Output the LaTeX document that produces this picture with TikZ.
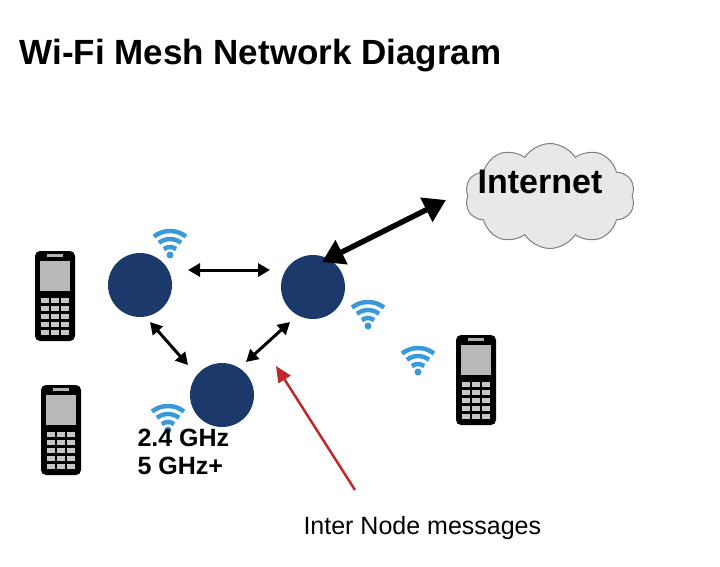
\documentclass[tikz,border=0pt]{standalone}
\usepackage{fontspec}
\setmainfont{Liberation Sans}
\usetikzlibrary{shapes.symbols,arrows.meta}
\definecolor{meshnode}{HTML}{1B3A6B}
\definecolor{wifiblue}{HTML}{3A9AD9}
\definecolor{cloudgray}{HTML}{E8E8E8}
\definecolor{redarrow}{HTML}{C0282D}

\tikzset{
	mesh/.style={circle, fill=meshnode, minimum size=64pt, inner sep=0pt},
	link/.style={line width=3pt, {Triangle[length=12pt,width=13pt]}-{Triangle[length=12pt,width=13pt]}},
	uplink/.style={line width=5.5pt, {Triangle[length=22pt,width=26pt]}-{Triangle[length=22pt,width=26pt]}}
}
% wifi symbol
\newcommand{\wifisign}[1]{%
	\begin{scope}[shift={#1}, wifiblue, line width=4.5pt]
		\fill (0,-2) circle[radius=3.5pt];
		\foreach \r in {10,18,26}{
			\draw (0,0) ++(232:\r) arc[start angle=232, end angle=308, radius=\r];
		}
	\end{scope}}
% mobile phone
\newcommand{\handset}[1]{%
	\begin{scope}[shift={#1}]
		\fill[black, rounded corners=5pt] (-20,-45) rectangle (20,45);
		\fill[gray!55] (-15,-35) rectangle (15,-5);
		\fill[gray!60] (-8,-42) rectangle (8,-39);
		\foreach \i in {0,...,4}{
			\foreach \j in {-1,0,1}{
				\fill[gray!45] (\j*10-4,2+\i*8) rectangle (\j*10+4,7+\i*8);
			}
		}
	\end{scope}}

\begin{document}
\begin{tikzpicture}[x=1pt, y=-1pt]
	\useasboundingbox (0,0) rectangle (720,566);
	\node[anchor=base west, font=\bfseries\fontsize{35}{38}\selectfont] (title) at (16,64) {Wi-Fi Mesh Network Diagram};

	\node[cloud, cloud puffs=10, cloud puff arc=115, aspect=1.6, fill=cloudgray, draw=gray, line width=1pt, minimum width=170pt, minimum height=105pt] (internet) at (550,196) {};
	\node[font=\bfseries\fontsize{34}{36}\selectfont] at (540,182) {Internet};

	\node[mesh] (left) at (140,285) {};
	\node[mesh] (right) at (313,287) {};
	\node[mesh] (bottom) at (222,395) {};

	\draw[link] (188,270) -- (270,270);
	\draw[link] (150,322) -- (188,365);
	\draw[link] (246,362) -- (290,322);
	\draw[uplink] (322,262) -- (446,200);

	\wifisign{(170,257)}
	\wifisign{(368,328)}
	\wifisign{(418,374)}
	\wifisign{(168,432)}

	\handset{(55,296)}
	\handset{(61,430)}
	\handset{(476,380)}

	\draw[redarrow, line width=2.5pt, -{Triangle[length=16pt,width=14pt]}] (355,490) -- (276,366);

	\node[anchor=base west, font=\bfseries\fontsize{25}{28}\selectfont, align=left] (freq) at (134,474) {2.4 GHz\\5 GHz+};
	\node[anchor=base west, font=\fontsize{25}{28}\selectfont] (msg) at (300,534) {Inter Node messages};
\end{tikzpicture}
\end{document}
